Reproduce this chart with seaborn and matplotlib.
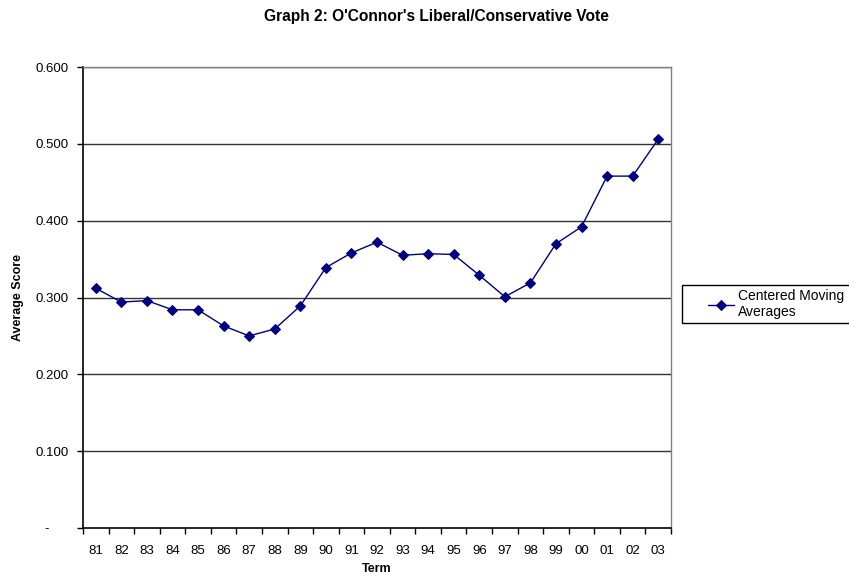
import matplotlib
matplotlib.use("Agg")
import matplotlib.pyplot as plt
import matplotlib.transforms as mtransforms
from matplotlib.patches import Rectangle
import seaborn as sns
import pandas as pd
import numpy as np
from matplotlib.ticker import FixedLocator, FuncFormatter

terms = ["81", "82", "83", "84", "85", "86", "87", "88", "89", "90", "91", "92",
         "93", "94", "95", "96", "97", "98", "99", "00", "01", "02", "03"]
moving_avg = [0.312, 0.294, 0.296, 0.284, 0.284, 0.263, 0.250, 0.259, 0.289,
              0.339, 0.358, 0.372, 0.355, 0.357, 0.356, 0.329, 0.301, 0.319,
              0.370, 0.392, 0.458, 0.458, 0.506]
y_ticks = [0.0, 0.1, 0.2, 0.3, 0.4, 0.5, 0.6]
series_name = "Centered Moving\nAverages"

sns.set_theme(style="white")
plt.rcParams["font.family"] = ["Liberation Sans", "DejaVu Sans"]
plt.rcParams.update({"text.color": "black", "axes.labelcolor": "black",
                     "xtick.color": "black", "ytick.color": "black",
                     "xtick.bottom": True, "ytick.left": True})

df = pd.DataFrame({"pos": np.arange(len(terms)), "Term": terms, "Score": moving_avg})

W, H = 849, 577
fig = plt.figure(figsize=(W / 100, H / 100), dpi=100)
ax = fig.add_axes([83 / W, 1 - 528 / H, (671 - 83) / W, (528 - 67) / H])

sns.lineplot(data=df, x="pos", y="Score", ax=ax, color="#000080", linewidth=1.0,
             marker="D", markersize=5, markeredgecolor="#000080", legend=False)

ax.set_xlim(-0.5, len(terms) - 0.5)
ax.set_ylim(0, 0.6)

# horizontal gridlines
for v in y_ticks[1:]:
    ax.axhline(v, color="#333333", linewidth=1.0, zorder=0)

ax.set_yticks(y_ticks)
ax.yaxis.set_major_formatter(FuncFormatter(lambda v, p: "-" if abs(v) < 1e-9 else f"{v:.3f}"))
ax.set_xticks(df["pos"])
ax.set_xticklabels(terms)
ax.xaxis.set_minor_locator(FixedLocator(np.arange(-0.5, len(terms), 1.0)))

ax.tick_params(axis="x", which="major", bottom=False, length=0, pad=12, labelsize=9.5)
ax.tick_params(axis="x", which="minor", bottom=True, length=4, width=1, direction="out")
ax.tick_params(axis="y", which="major", left=True, length=4, width=1, direction="out",
               labelsize=9.5, pad=6)

# zero label sits inset, the way accounting-style formatting places the dash
fig.canvas.draw()
zero_lbl = ax.get_yticklabels()[0]
zero_lbl.set_transform(zero_lbl.get_transform() +
                       mtransforms.ScaledTranslation(-20 / 100, 0, fig.dpi_scale_trans))

for side in ["top", "right"]:
    ax.spines[side].set_color("#808080")
    ax.spines[side].set_linewidth(1.0)
for side in ["left", "bottom"]:
    ax.spines[side].set_color("black")
    ax.spines[side].set_linewidth(1.2)

ax.set_xlabel("Term", fontsize=9, fontweight="bold")
ax.xaxis.set_label_coords(0.5, -(569 - 528) / (528 - 67))
ax.xaxis.label.set_va("center")
ax.set_ylabel("Average Score", fontsize=9, fontweight="bold")
ax.yaxis.set_label_coords(-(83 - 18) / (671 - 83), 0.5)
ax.yaxis.label.set_va("center")

fig.text(436 / W, 1 - 17 / H, "Graph 2: O'Connor's Liberal/Conservative Vote",
         ha="center", va="center", fontsize=11.2, fontweight="bold")

# legend box running off the right edge
fig.patches.append(Rectangle((682 / W, 1 - 323 / H), (880 - 682) / W, (323 - 285) / H,
                             transform=fig.transFigure, facecolor="white",
                             edgecolor="black", linewidth=1.0, zorder=1))
leg = fig.legend([ax.get_lines()[0]], [series_name], loc="center left",
                 bbox_to_anchor=(708 / W, 1 - 304 / H), frameon=False,
                 fontsize=10, handlelength=1.9, handletextpad=0.25,
                 borderpad=0, labelspacing=0, borderaxespad=0)
leg.set_zorder(2)

fig.savefig("out.png", dpi=100)
